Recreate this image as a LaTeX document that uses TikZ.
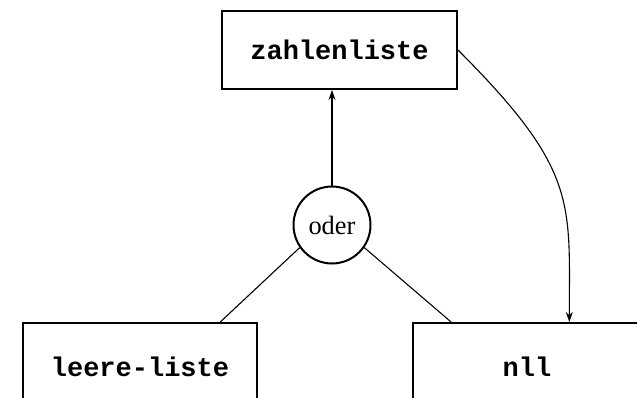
\documentclass[tikz,border=0pt]{standalone}
\usepackage{fontspec}
\setmainfont{Liberation Serif}
\setmonofont{Liberation Mono}
\usepackage{tikz}
\usetikzlibrary{positioning,arrows.meta,calc}

\begin{document}
\begin{tikzpicture}[
            x=0.5pt, y=0.5pt,
            % style for the list boxes
            listbox/.style={draw, line width=1pt, font=\ttfamily\bfseries\fontsize{13.5}{16}\selectfont},
            % style for the "oder" circle
            orbox/.style={draw, circle, line width=1pt, minimum size=38.5pt, inner sep=0pt, font=\fontsize{13.2}{16}\selectfont},
            % arrow style
            arr/.style={-{Stealth[length=5pt,width=3.5pt]}, line width=0.55pt},
            line/.style={line width=0.55pt}
        ]
            \useasboundingbox (0,0) rectangle (637,397);

            % --- 1. TOP BOX ---
            \node[listbox, minimum width=117.5pt, minimum height=39pt] (zahlen) at (339.5, 347) {zahlenliste};

            % --- 2. OR NODE ---
            \node[orbox] (oder) at (332, 172) {oder};

            % --- 3. BOTTOM BOXES (cut off at the page edge) ---
            \node[listbox, minimum width=117pt, minimum height=44pt] (leer) at (140, 30) {leere-liste};
            \node[listbox, minimum width=114pt, minimum height=44pt] (nll) at (527, 30) {nll};

            % --- 4. CONNECTORS ---
            \draw[arr] (oder.north) -- (oder.north |- zahlen.south);
            \draw[line] (oder.215) -- ($(leer.north west)!0.84!(leer.north east)$);
            \draw[line] (oder.-35) -- ($(nll.north west)!0.17!(nll.north east)$);

            % curved arrow from the top box down to nll
            \draw[arr] (zahlen.east) to[out=-45, in=90, out distance=85pt, in distance=60pt]
                ($(nll.north west)!0.684!(nll.north east)$);

        \end{tikzpicture}
\end{document}
